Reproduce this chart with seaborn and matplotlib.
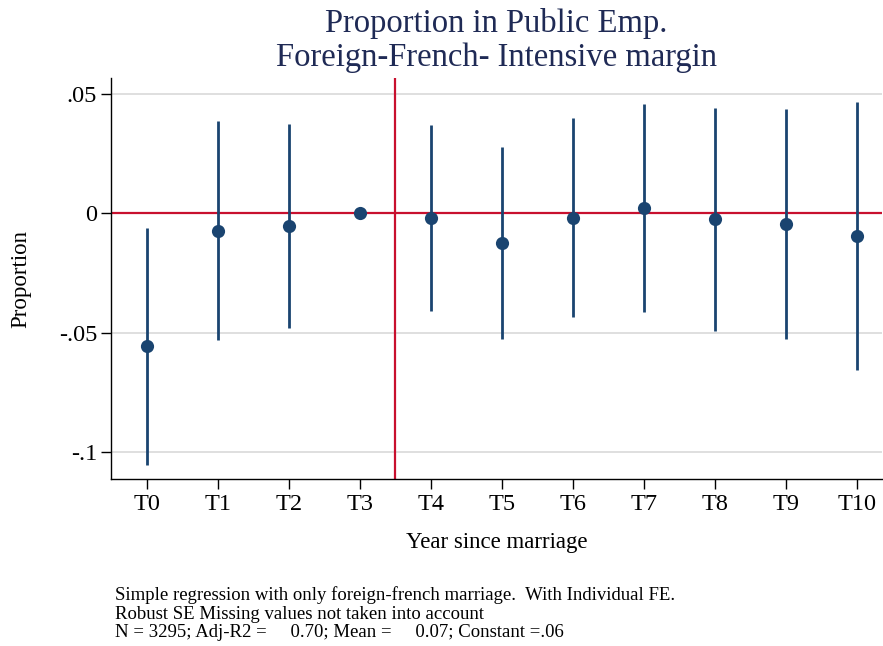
import numpy as np
import pandas as pd
import matplotlib
matplotlib.use("Agg")
import matplotlib.pyplot as plt
import seaborn as sns

# coefficients
periods = ["T0", "T1", "T2", "T3", "T4", "T5", "T6", "T7", "T8", "T9", "T10"]
coef = [-0.0556, -0.0073, -0.0052, 0.0, -0.0018, -0.0125, -0.0018, 0.0024, -0.0025, -0.0045, -0.0094]
ci_low = [-0.1055, -0.0531, -0.0482, np.nan, -0.0409, -0.0528, -0.0436, -0.0415, -0.0492, -0.0528, -0.0655]
ci_high = [-0.0063, 0.0387, 0.0376, np.nan, 0.0370, 0.0278, 0.0398, 0.0459, 0.0440, 0.0436, 0.0468]
yticks = [-0.1, -0.05, 0, 0.05]
ytick_labels = ["-.1", "-.05", "0", ".05"]
notes = ("Simple regression with only foreign-french marriage.  With Individual FE.\n"
         "Robust SE Missing values not taken into account\n"
         "N = 3295; Adj-R2 =     0.70; Mean =     0.07; Constant =.06")

df = pd.DataFrame({"period": periods, "coef": coef, "lo": ci_low, "hi": ci_high})
df["pos"] = np.arange(len(df))

sns.set_style("white")
plt.rcParams["font.family"] = ["Liberation Serif", "DejaVu Serif"]
plt.rcParams["text.color"] = "black"
plt.rcParams["axes.labelcolor"] = "black"

navy = "#1a4470"
red = "#c8102e"
title_col = "#1f2a55"

fig = plt.figure(figsize=(8.83, 6.46), dpi=100)
ax = fig.add_axes([0.1257, 0.2585, 0.8733, 0.6205])

for y in yticks:
    ax.axhline(y, color="#dcdcdc", lw=1.3, zorder=0)
ax.axhline(0, color=red, lw=1.6, zorder=1)
ax.axvline(3.5, color=red, lw=1.6, zorder=1)

ci = df.dropna()
ax.vlines(ci["pos"], ci["lo"], ci["hi"], color=navy, lw=2.0, zorder=2)
sns.scatterplot(data=df, x="pos", y="coef", ax=ax, color=navy, s=90,
                edgecolor=navy, linewidth=0, zorder=3, legend=False)

ax.set_xlim(-0.5, 10.35)
ax.set_ylim(-0.1114, 0.0567)
ax.set_xticks(df["pos"])
ax.set_xticklabels(periods, fontsize=17.5)
ax.set_yticks(yticks)
ax.set_yticklabels(ytick_labels, fontsize=17.5)
ax.tick_params(axis="both", direction="out", length=7, width=1, colors="black",
               bottom=True, left=True)
ax.tick_params(axis="x", pad=4)
ax.tick_params(axis="y", pad=3)

for side in ["top", "right"]:
    ax.spines[side].set_visible(False)
for side in ["left", "bottom"]:
    ax.spines[side].set_color("black")
    ax.spines[side].set_linewidth(1.0)

ax.set_xlabel("Year since marriage", fontsize=16.5, labelpad=12)
ax.set_ylabel("Proportion", fontsize=16.5, labelpad=20)
ax.set_title("Proportion in Public Emp.\nForeign-French- Intensive margin",
             fontsize=23.5, color=title_col, pad=9, linespacing=1.15)

fig.text(0.130, 0.008, notes, fontsize=13.5, ha="left", va="bottom", linespacing=1.1)

fig.savefig("out.png", dpi=100)
